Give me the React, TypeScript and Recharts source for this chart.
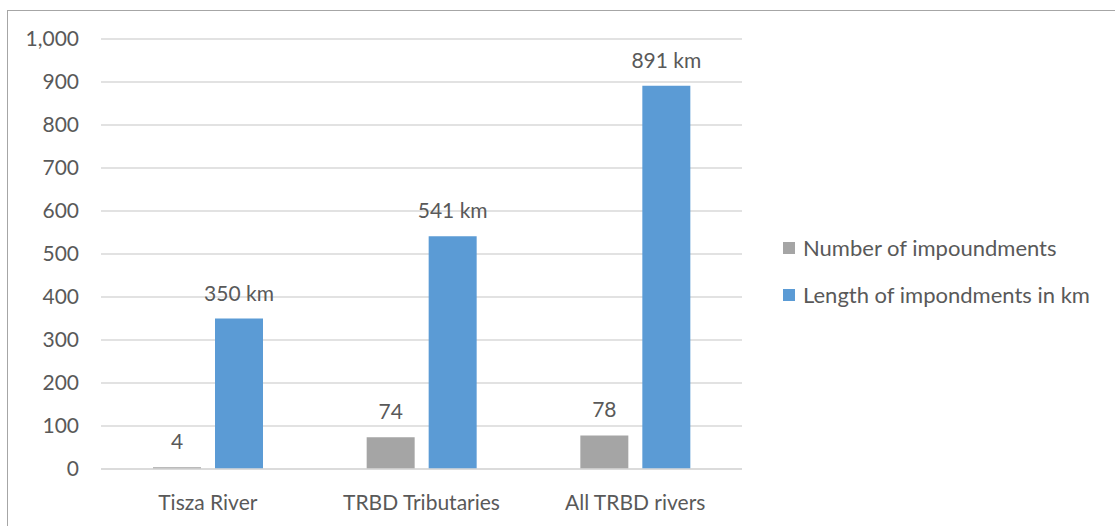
import React from 'react';
import { BarChart, Bar, XAxis, YAxis, CartesianGrid, LabelList } from 'recharts';

const categories = ['Tisza River', 'TRBD Tributaries', 'All TRBD rivers'];
const impoundmentCount = [4, 74, 78];
const impoundmentLength = [350, 541, 891];
const yTicks = [0, 100, 200, 300, 400, 500, 600, 700, 800, 900, 1000];

const seriesNames = ['Number of impoundments', 'Length of impondments in km'];
const GRAY = '#a5a5a5';
const BLUE = '#5b9bd5';
const TEXT = '#595959';
const FONT = 'Lato, "Open Sans", sans-serif';
const FS = 21;

const rows = categories.map((name, i) => ({
  name,
  count: impoundmentCount[i],
  length: impoundmentLength[i],
}));

// label drawn above the bar without wrapping
const topLabel = (suffix: string) => (props: any) => {
  const { x, y, width, value } = props;
  return (
    <text
      x={Number(x) + Number(width) / 2}
      y={Number(y) - 18}
      textAnchor="middle"
      fill={TEXT}
      fontSize={FS}
      fontFamily={FONT}
    >
      {`${value}${suffix}`}
    </text>
  );
};

function LegendBox() {
  const items = [
    { label: seriesNames[0], color: GRAY },
    { label: seriesNames[1], color: BLUE },
  ];
  return (
    <div
      style={{
        position: 'absolute',
        left: 775,
        top: 213,
        fontFamily: FONT,
        fontSize: 22,
        color: TEXT,
        whiteSpace: 'nowrap',
      }}
    >
      {items.map((it) => (
        <div key={it.label} style={{ display: 'flex', alignItems: 'center', height: 47 }}>
          <span style={{ width: 12, height: 12, background: it.color, marginRight: 8, display: 'inline-block' }} />
          <span>{it.label}</span>
        </div>
      ))}
    </div>
  );
}

export default function App() {
  return (
    <div
      style={{
        position: 'absolute',
        left: 7,
        top: 10,
        width: 1120,
        height: 530,
        border: '1px solid #a6a6a6',
        background: '#fff',
      }}
    >
      <BarChart
        width={1108}
        height={515}
        data={rows}
        margin={{ top: 28, right: 374, left: 0, bottom: 27 }}
        barCategoryGap={52}
        barGap={14}
      >
        <CartesianGrid vertical={false} stroke="#d9d9d9" strokeWidth={1.5} />
        <XAxis
          dataKey="name"
          height={30}
          interval={0}
          tickLine={false}
          axisLine={{ stroke: '#d9d9d9', strokeWidth: 1.5 }}
          tick={{ fill: TEXT, fontSize: FS, fontFamily: FONT }}
          tickMargin={20}
        />
        <YAxis
          width={93}
          domain={[0, 1000]}
          ticks={yTicks}
          interval={0}
          tickLine={false}
          axisLine={false}
          tickMargin={16}
          tickFormatter={(v: number) => v.toLocaleString('en-US')}
          tick={{ fill: TEXT, fontSize: FS, fontFamily: FONT }}
        />
        <Bar dataKey="count" name={seriesNames[0]} fill={GRAY} isAnimationActive={false}>
          <LabelList dataKey="count" content={topLabel('')} />
        </Bar>
        <Bar dataKey="length" name={seriesNames[1]} fill={BLUE} isAnimationActive={false}>
          <LabelList dataKey="length" content={topLabel(' km')} />
        </Bar>
      </BarChart>
      <LegendBox />
    </div>
  );
}
